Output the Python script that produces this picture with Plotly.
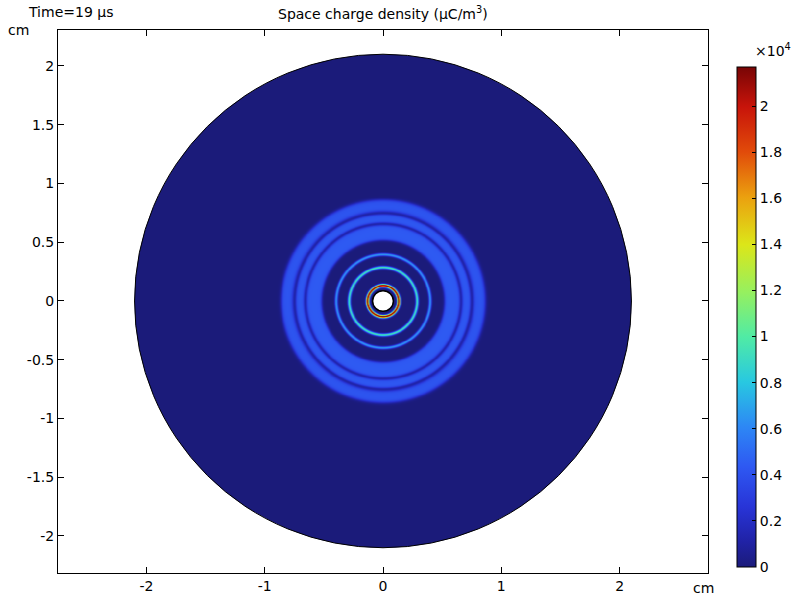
import numpy as np
import plotly.graph_objects as go

# ---------------- data ----------------
disk_radius = 2.1          # cm
hole_radius = 0.088        # cm

# thin sharp rings: radius (cm), peak value (µC/m³), gaussian width (cm)
ring_radius = [0.132, 0.287, 0.397]
ring_peak = [21700, 9600, 6600]
ring_width = [0.009, 0.0085, 0.0085]

# broad bands: inner/outer radius (cm), plateau value (µC/m³)
band_inner = [0.52, 0.668, 0.762]
band_outer = [0.648, 0.738, 0.862]
band_value = [4400, 4300, 4200]
band_soft = [0.012, 0.011, 0.016]

cmax = 21700
x_ticks = [-2, -1, 0, 1, 2]
x_ticktext = ["-2", "-1", "0", "1", "2"]
y_ticks = [-2, -1.5, -1, -0.5, 0, 0.5, 1, 1.5, 2]
y_ticktext = ["-2", "-1.5", "-1", "-0.5", "0", "0.5", "1", "1.5", "2"]
cb_ticks = [0, 2000, 4000, 6000, 8000, 10000, 12000, 14000, 16000, 18000, 20000]
cb_ticktext = ["0", "0.2", "0.4", "0.6", "0.8", "1", "1.2", "1.4", "1.6", "1.8", "2"]

# ---------------- field on a grid around the centre ----------------
half = 0.95
n = 460
g = np.linspace(-half, half, n)
X, Y = np.meshgrid(g, g)
R = np.sqrt(X**2 + Y**2)
Z = np.zeros_like(R)
for r0, pk, w in zip(ring_radius, ring_peak, ring_width):
    Z += pk * np.exp(-0.5 * ((R - r0) / w) ** 2)
for ri, ro, v, s in zip(band_inner, band_outer, band_value, band_soft):
    Z += v * 0.25 * (1 + np.tanh((R - ri) / s)) * (1 - np.tanh((R - ro) / s))
Z = np.clip(Z, 0, cmax)
Z = np.round(Z).astype(int)

colorscale = [
    [0.00, "rgb(27,27,122)"],
    [0.05, "rgb(32,34,165)"],
    [0.12, "rgb(40,52,215)"],
    [0.20, "rgb(46,88,242)"],
    [0.28, "rgb(45,135,245)"],
    [0.37, "rgb(40,200,225)"],
    [0.46, "rgb(80,235,165)"],
    [0.55, "rgb(150,240,95)"],
    [0.645, "rgb(220,230,25)"],
    [0.74, "rgb(235,160,15)"],
    [0.83, "rgb(225,75,10)"],
    [0.92, "rgb(200,20,10)"],
    [1.00, "rgb(120,5,5)"],
]

W, H = 794, 598
L, Rm, T, B = 58, 86, 30, 25
pw, ph = W - L - Rm, H - T - B


def px(xp):
    return (xp - L) / pw


def py(yp):
    return (H - B - yp) / ph


font = dict(family="DejaVu Sans", size=14, color="black")

fig = go.Figure()
fig.add_trace(go.Heatmap(
    x=g, y=g, z=Z, zmin=0, zmax=cmax, colorscale=colorscale,
    zsmooth="best",
    hoverinfo="skip",
    colorbar=dict(
        x=px(737), xanchor="left", y=py(317), yanchor="middle",
        xpad=0, ypad=0,
        thickness=19, thicknessmode="pixels", len=500, lenmode="pixels",
        outlinewidth=1, outlinecolor="black",
        ticks="inside", ticklen=4, tickcolor="black",
        tickvals=cb_ticks, ticktext=cb_ticktext,
        tickfont=font,
    ),
))

# disk (value 0 background) and hole
fig.add_shape(type="circle", xref="x", yref="y",
              x0=-disk_radius, y0=-disk_radius, x1=disk_radius, y1=disk_radius,
              fillcolor="rgb(27,27,122)", line=dict(color="black", width=1), layer="below")
fig.add_shape(type="circle", xref="x", yref="y",
              x0=-hole_radius, y0=-hole_radius, x1=hole_radius, y1=hole_radius,
              fillcolor="white", line=dict(color="black", width=1.5), layer="above")

fig.update_layout(
    width=W, height=H,
    margin=dict(l=L, r=Rm, t=T, b=B, autoexpand=False),
    paper_bgcolor="white", plot_bgcolor="white",
    font=font,
    showlegend=False,
    xaxis=dict(range=[-2.747, 2.747], tickvals=x_ticks, ticktext=x_ticktext,
               ticks="inside", ticklen=6, tickcolor="black", showline=True,
               linecolor="black", linewidth=1, mirror="ticks", showgrid=False,
               zeroline=False, tickfont=font, automargin=False),
    yaxis=dict(range=[-2.315, 2.306], tickvals=y_ticks, ticktext=y_ticktext,
               ticks="inside", ticklen=6, tickcolor="black", showline=True,
               linecolor="black", linewidth=1, mirror="ticks", showgrid=False,
               zeroline=False, tickfont=font, automargin=False),
    annotations=[
        dict(text="Space charge density (µC/m<sup>3</sup>)", x=px(383), y=py(13),
             xref="paper", yref="paper", showarrow=False, xanchor="center",
             yanchor="middle", font=font),
        dict(text="Time=19 µs", x=px(26), y=py(12), xref="paper", yref="paper",
             showarrow=False, xanchor="left", yanchor="middle", font=font),
        dict(text="cm", x=px(18), y=py(30), xref="paper", yref="paper",
             showarrow=False, xanchor="center", yanchor="middle", font=font),
        dict(text="cm", x=px(703), y=py(588), xref="paper", yref="paper",
             showarrow=False, xanchor="center", yanchor="middle", font=font),
        dict(text="×10<sup>4</sup>", x=px(773), y=py(50), xref="paper", yref="paper",
             showarrow=False, xanchor="center", yanchor="middle", font=font),
    ],
)

fig.write_html("out.html")
